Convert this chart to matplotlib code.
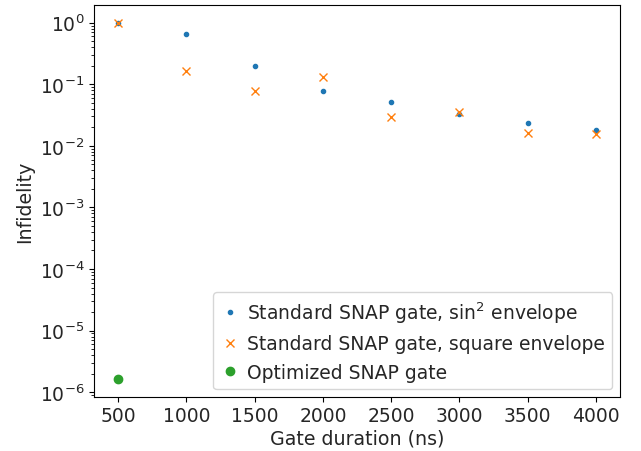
import matplotlib
matplotlib.use("Agg")
import matplotlib.pyplot as plt

durations = [500, 1000, 1500, 2000, 2500, 3000, 3500, 4000]
infid_sin2 = [1.0, 0.66, 0.20, 0.077, 0.051, 0.0327, 0.0231, 0.018]
infid_square = [1.0, 0.165, 0.078, 0.13, 0.0296, 0.0357, 0.0161, 0.0155]
opt_duration = [500]
opt_infid = [1.64e-6]

text_col = "#262626"
plt.rcParams["font.size"] = 13.5
plt.rcParams["text.color"] = text_col
plt.rcParams["axes.labelcolor"] = text_col
plt.rcParams["xtick.labelcolor"] = text_col
plt.rcParams["ytick.labelcolor"] = text_col

fig, ax = plt.subplots(figsize=(6.41, 4.52), dpi=100)
ax.plot(durations, infid_sin2, ".", color="tab:blue",
        label=r"Standard SNAP gate, sin$^2$ envelope")
ax.plot(durations, infid_square, "x", color="tab:orange",
        label="Standard SNAP gate, square envelope")
ax.plot(opt_duration, opt_infid, "o", color="tab:green",
        label="Optimized SNAP gate")
ax.set_yscale("log")
ax.set_xlabel("Gate duration (ns)", fontsize=13.7, labelpad=2)
ax.set_ylabel("Infidelity", fontsize=13.7)
ax.legend(loc="lower right", numpoints=1, handletextpad=0.4, handlelength=1.0,
          fontsize=13.5, borderaxespad=0.4)
fig.subplots_adjust(left=0.147, right=0.967, top=0.987, bottom=0.12)
fig.savefig("out.png", dpi=100)
